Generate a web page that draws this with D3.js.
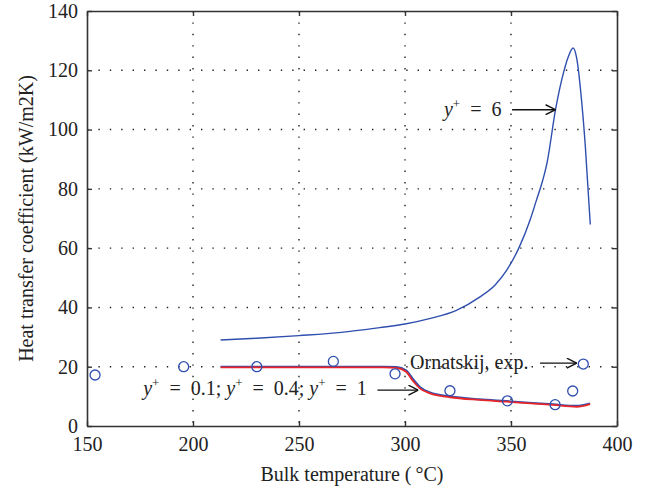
<!DOCTYPE html>
<html>
<head>
<meta charset="utf-8">
<script src="https://cdn.jsdelivr.net/npm/d3@7"></script>
<style>
body { margin: 0; background: #fff; }
svg text { font-family: "Liberation Serif", "DejaVu Serif", serif; fill: #222; }
</style>
</head>
<body>
<svg width="645" height="490"></svg>
<script>
// y+ = 6 curve
var tempHigh = [213, 230, 250, 270, 288, 300, 312, 324, 335, 342.5, 348, 354, 359, 362, 365, 367, 371, 374, 377, 379.3, 381, 383, 385, 387.4];
var htcHigh = [29, 29.6, 30.5, 31.6, 33.2, 34.4, 36.3, 38.9, 43.4, 47.6, 52.6, 60.5, 69.5, 76.2, 83, 88.8, 106.7, 117, 124.5, 127.5, 124, 112, 95, 68];

// y+ = 0.1; 0.4; 1 curves
var tempLow = [213, 240, 270, 290, 296, 300.5, 304, 307, 311.8, 321.2, 335, 348, 369.8, 381, 387.3];
var htcLowBlue = [20, 20, 20, 20, 19.9, 18.8, 15.6, 13.2, 11.3, 10, 9, 8.4, 7.3, 6.8, 7.6];
var htcLowRed = [19.8, 19.8, 19.8, 19.8, 19.6, 18.3, 15, 12.7, 11, 9.7, 8.8, 8.2, 7.1, 6.5, 7.4];

// Ornatskij experiment
var tempExp = [153.8, 195.6, 230.1, 266.2, 295.3, 321.2, 348.3, 370.8, 379.1, 384.1];
var htcExp = [17.2, 20, 20, 21.8, 17.6, 11.9, 8.5, 7.2, 11.8, 20.9];

var xTicks = [150, 200, 250, 300, 350, 400];
var yTicks = [0, 20, 40, 60, 80, 100, 120, 140];

var margin = {top: 11, right: 28, bottom: 64, left: 87};
var width = 645 - margin.left - margin.right;
var height = 490 - margin.top - margin.bottom;

var svg = d3.select("svg");
var g = svg.append("g").attr("transform", "translate(" + margin.left + "," + margin.top + ")");

var x = d3.scaleLinear().domain([150, 400]).range([0, width]);
var y = d3.scaleLinear().domain([0, 140]).range([height, 0]);

// dotted grid
g.append("g").selectAll("line").data(xTicks.slice(1, -1)).enter().append("line")
    .attr("x1", d => x(d)).attr("x2", d => x(d))
    .attr("y1", 0).attr("y2", height)
    .attr("stroke", "#222").attr("stroke-width", 1.4)
    .attr("stroke-dasharray", "1.4,10");
g.append("g").selectAll("line").data(yTicks.slice(1, -1)).enter().append("line")
    .attr("x1", 0).attr("x2", width)
    .attr("y1", d => y(d)).attr("y2", d => y(d))
    .attr("stroke", "#222").attr("stroke-width", 1.4)
    .attr("stroke-dasharray", "1.4,10");

// axes with inward ticks
g.append("g").attr("transform", "translate(0," + height + ")")
    .call(d3.axisBottom(x).tickValues(xTicks).tickSizeInner(-5).tickSizeOuter(0).tickPadding(11));
g.append("g")
    .call(d3.axisLeft(y).tickValues(yTicks).tickSizeInner(-5).tickSizeOuter(0).tickPadding(9));
g.append("g")
    .call(d3.axisTop(x).tickValues(xTicks).tickSizeInner(-5).tickSizeOuter(0).tickFormat(""));
g.append("g").attr("transform", "translate(" + width + ",0)")
    .call(d3.axisRight(y).tickValues(yTicks).tickSizeInner(-5).tickSizeOuter(0).tickFormat(""));

g.selectAll(".domain").attr("stroke", "#333").attr("stroke-width", 1.6);
g.selectAll(".tick line").attr("stroke", "#333").attr("stroke-width", 1.4);
g.selectAll(".tick text").attr("font-size", 20).attr("fill", "#222")
    .style("font-family", "'Liberation Serif', serif");

// curves
var line = d3.line().curve(d3.curveMonotoneX);

g.append("path")
    .attr("d", line(tempHigh.map((t, i) => [x(t), y(htcHigh[i])])))
    .attr("fill", "none").attr("stroke", "#2f4fae").attr("stroke-width", 1.4);

g.append("path")
    .attr("d", line(tempLow.map((t, i) => [x(t), y(htcLowBlue[i])])))
    .attr("fill", "none").attr("stroke", "#2f4fae").attr("stroke-width", 2);

g.append("path")
    .attr("d", line(tempLow.map((t, i) => [x(t), y(htcLowRed[i])])))
    .attr("fill", "none").attr("stroke", "#e8262a").attr("stroke-width", 1.8);

g.append("g").selectAll("circle").data(tempExp).enter().append("circle")
    .attr("cx", d => x(d))
    .attr("cy", (d, i) => y(htcExp[i]))
    .attr("r", 5)
    .attr("fill", "none").attr("stroke", "#2f4fae").attr("stroke-width", 1.3);

// annotations
svg.append("defs").append("marker")
    .attr("id", "arr").attr("viewBox", "0 0 10 10")
    .attr("refX", 10).attr("refY", 5)
    .attr("markerWidth", 11).attr("markerHeight", 11)
    .attr("markerUnits", "userSpaceOnUse")
    .attr("orient", "auto")
    .append("path").attr("d", "M1,0.5 L10,5 L1,9.5")
    .attr("fill", "none").attr("stroke", "#111").attr("stroke-width", 1.3);

function arrow(t1, t2, v) {
    g.append("line")
        .attr("x1", x(t1)).attr("x2", x(t2))
        .attr("y1", y(v)).attr("y2", y(v))
        .attr("stroke", "#111").attr("stroke-width", 1.4)
        .attr("marker-end", "url(#arr)");
}

function yplus(sel, val) {
    sel.append("tspan").attr("font-style", "italic").text("y");
    sel.append("tspan").attr("font-size", 13).attr("dy", -8).text("+");
    sel.append("tspan").attr("dy", 8).text("\u2002=\u2002" + val);
}

var t1 = g.append("text").attr("x", x(345.5)).attr("y", y(104.6))
    .attr("text-anchor", "end").attr("font-size", 20);
yplus(t1, "6");
arrow(350.5, 371, 106.7);

g.append("text").attr("x", x(302.4)).attr("y", y(19.1))
    .attr("font-size", 20).text("Ornatskij, exp.");
arrow(363.7, 381, 21.2);

var t3 = g.append("text").attr("x", x(282)).attr("y", y(10.4))
    .attr("text-anchor", "end").attr("font-size", 20);
yplus(t3, "0.1; ");
yplus(t3, "0.4; ");
yplus(t3, "1");
arrow(287, 306.3, 12.1);

// axis titles
svg.append("text")
    .attr("x", margin.left + width / 2).attr("y", 481)
    .attr("text-anchor", "middle").attr("font-size", 20)
    .text("Bulk temperature (\u2009°C)");

svg.append("text")
    .attr("transform", "translate(33," + (margin.top + height / 2) + ") rotate(-90)")
    .attr("text-anchor", "middle").attr("font-size", 20)
    .text("Heat transfer coefficient (kW/m2K)");
</script>
</body>
</html>
